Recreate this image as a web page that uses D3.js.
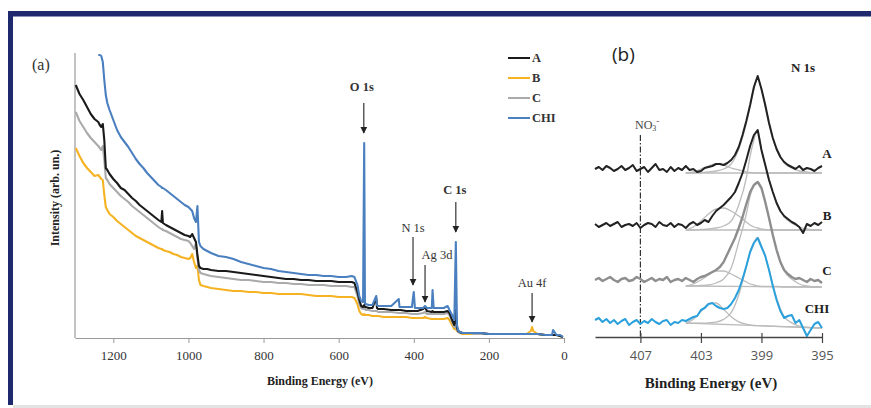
<!DOCTYPE html>
<html>
<head>
<meta charset="utf-8">
<script src="https://cdn.jsdelivr.net/npm/d3@7"></script>
<style>
body { margin: 0; background: #fff; }
svg { display: block; }
</style>
</head>
<body>
<svg id="chart" width="871" height="408"></svg>
<script>
// ---- (a) survey spectra: binding energy (eV) and intensity (arb. units)
var energy = [1300, 1290, 1280, 1270, 1260, 1250, 1240, 1236, 1232, 1228,
    1224, 1220, 1216, 1210, 1200, 1190, 1180, 1170, 1160, 1150,
    1140, 1130, 1120, 1110, 1100, 1090, 1080, 1072, 1070, 1068,
    1060, 1050, 1040, 1030, 1020, 1010, 1000, 995, 990, 985,
    980, 976, 972, 968, 960, 950, 940, 920, 900, 880,
    860, 840, 820, 800, 780, 760, 740, 720, 700, 680,
    660, 640, 620, 600, 580, 565, 558, 550, 545, 540,
    535, 532, 530, 528, 520, 510, 500, 498, 495, 480,
    460, 440, 438, 435, 420, 405, 400, 397, 390, 375,
    370, 365, 352, 350, 347, 335, 320, 310, 305, 298,
    292, 288, 285, 282, 278, 270, 260, 250, 240, 220,
    200, 180, 160, 140, 120, 100, 88, 85, 82, 70,
    50, 35, 32, 29, 20, 10, 3];

var sampleA = [253, 244, 238, 231, 224, 219, 216, 213, 211, 214,
    198, 170, 168, 164, 159, 155, 150, 148, 144, 140,
    137, 133, 130, 127, 124, 121, 118, 116, 127, 115,
    113, 111, 109, 107, 105, 103, 102, 101, 104, 100,
    96, 83, 72, 70, 69, 69, 68, 67, 67, 66,
    65, 64, 63, 62, 61, 60, 59, 59, 58, 58,
    57, 57, 57, 56, 56, 56, 55, 46, 38, 32,
    31, 33, 31, 31, 30, 30, 40, 30, 29, 29,
    28, 28, 28, 28, 27, 27, 27, 27, 27, 29,
    31, 27, 26, 27, 26, 26, 26, 27, 25, 18,
    13, 28, 10, 7, 6, 5, 5, 5, 5, 5,
    4, 4, 4, 4, 4, 4, 4, 4, 4, 4,
    3, 3, 3, 3, 3, 2, 1];

var sampleB = [190, 182, 175, 170, 166, 162, 163, 161, 159, 158,
    143, 131, 128, 124, 121, 117, 114, 111, 108, 105,
    102, 100, 98, 96, 94, 92, 90, 89, 89, 88,
    87, 86, 84, 83, 81, 80, 79, 80, 84, 76,
    70, 72, 58, 53, 52, 51, 50, 49, 48, 47,
    47, 46, 46, 45, 45, 44, 44, 44, 44, 43,
    42, 42, 42, 41, 41, 41, 40, 34, 27, 24,
    23, 24, 23, 23, 23, 22, 22, 22, 22, 21,
    21, 21, 21, 21, 21, 20, 20, 20, 20, 20,
    21, 20, 19, 19, 19, 19, 19, 20, 18, 13,
    9, 9, 7, 6, 5, 4, 4, 4, 4, 4,
    4, 4, 4, 4, 4, 4, 7, 11, 7, 4,
    3, 3, 3, 3, 3, 2, 1];

var sampleC = [226, 217, 211, 205, 200, 196, 192, 190, 188, 192,
    178, 160, 158, 154, 150, 146, 142, 139, 136, 132,
    129, 126, 123, 120, 117, 114, 111, 109, 109, 108,
    107, 105, 103, 101, 99, 98, 97, 95, 92, 89,
    95, 80, 68, 65, 64, 63, 62, 61, 60, 59,
    58, 58, 57, 56, 56, 55, 55, 54, 54, 53,
    53, 53, 52, 52, 52, 51, 51, 42, 34, 30,
    29, 30, 29, 28, 28, 27, 27, 27, 26, 26,
    26, 25, 25, 25, 25, 24, 24, 24, 24, 25,
    26, 24, 24, 24, 24, 24, 24, 25, 23, 16,
    11, 12, 8, 6, 5, 5, 5, 5, 4, 4,
    4, 4, 4, 4, 4, 4, 4, 4, 4, 4,
    3, 3, 3, 3, 3, 2, 1];

var sampleCHI = [null, null, null, null, null, null, 283, 283, 282, 276,
    258, 243, 235, 228, 218, 208, 201, 196, 191, 185,
    179, 174, 170, 165, 161, 157, 153, 151, 150, 150,
    148, 145, 142, 139, 136, 133, 131, 129, 127, 120,
    116, 132, 96, 92, 89, 87, 85, 82, 81, 79,
    76, 74, 72, 70, 69, 67, 66, 65, 64, 63,
    63, 62, 62, 61, 61, 62, 61, 53, 42, 37,
    36, 195, 35, 34, 33, 33, 42, 33, 32, 32,
    32, 39, 31, 31, 31, 31, 46, 30, 30, 30,
    32, 30, 30, 48, 30, 30, 30, 32, 28, 23,
    18, 96, 13, 8, 6, 5, 5, 5, 5, 5,
    4, 4, 4, 4, 4, 4, 4, 4, 4, 4,
    3, 3, 3, 8, 3, 3, 1];

var sampleNames = ["A", "B", "C", "CHI"];
var sampleColors = ["#1a1a1a", "#f5b223", "#aaaaaa", "#4a7fc0"];
var surveyTicks = [1200, 1000, 800, 600, 400, 200, 0];

var peakNames = ["O 1s", "N 1s", "Ag 3d", "C 1s", "Au 4f"];
var peakEnergies = [533, 402, 370, 288, 85];

// ---- (b) N 1s region
var nEnergy = [410, 409.75, 409.5, 409.25, 409, 408.75, 408.5, 408.25, 408, 407.75,
    407.5, 407.25, 407, 406.75, 406.5, 406.25, 406, 405.75, 405.5, 405.25,
    405, 404.75, 404.5, 404.25, 404, 403.75, 403.5, 403.25, 403, 402.75,
    402.5, 402.25, 402, 401.75, 401.5, 401.25, 401, 400.75, 400.5, 400.25,
    400, 399.75, 399.5, 399.25, 399, 398.75, 398.5, 398.25, 398, 397.75,
    397.5, 397.25, 397, 396.75, 396.5, 396.25, 396, 395.75, 395.5, 395.25, 395];

var nA = [0, 2, -1, 3, 1, -2, 0, 3, -1, 1, 4, -2, 0, 2, -3, 1, 5, -1, 0, -3,
    2, -2, 1, -1, 3, -1, 0, -3,
    -2, 1, 2, 3, 5, 5, 4,
    6, 9, 14, 22, 34, 48, 64, 82, 93, 80, 64, 46, 31, 20, 12, 7, 4,
    2, 0, 3, -1, 1, 0, -2, 1, 3];
var nB = [1, -2, 0, 2, -1, 1, 3, -2, 0, 1, -1, 2, -3, 0, 2, 1, -2, 3, 0, -1,
    2, -2, 1, 0, -3, 1, 3, 0,
    2, 5, 3, 9, 14, 17, 20,
    24, 28, 33, 42, 52, 65, 79, 90, 95, 75, 60, 45, 33, 22, 14, 9, 6,
    3, 1, -2, -8, 1, -1, 2, 0, 3];
var nC = [0, 2, -1, 1, 3, 0, -2, 1, 2, -1, 0, 3, 1, -2, 0, 2, -1, 1, 0, 3,
    -2, 0, 1, -1, 2, 0, -2, 1,
    3, 4, 6, 8, 10, 13, 18,
    26, 34, 42, 52, 63, 76, 88, 95, 98, 92, 78, 62, 45, 30, 18, 10, 6,
    3, 1, 2, 0, -2, 1, -1, 0, -3];
var nCHI = [2, 4, 0, 3, -1, 2, -2, 1, 3, -3, 0, 2, -2, 1, -1, 3, 0, -2, 1, 2,
    -3, 0, -1, 2, 1, 3, 5, 6,
    12, 14, 18, 19, 16, 14, 13,
    14, 18, 24, 32, 43, 56, 70, 79, 84, 75, 66, 52, 36, 22, 11, 4, 6,
    7, -1, 2, -6, -14, -8, -2, 0, -6];
var nOffsets = [168, 112, 57, 15];
var nColors = ["#222222", "#222222", "#8e8e8e", "#2aa0dc"];
var nWidths = [2, 2, 2.4, 2];

// fitted components (background included), same spectrum order
var fitE = [404, 403.5, 403, 402.5, 402, 401.5, 401, 400.5, 400, 399.75, 399.5,
    399.25, 399, 398.75, 398.5, 398, 397.5, 397, 396.5, 396, 395.5, 395];
var mainFit = [
    [-4, -4, -3.5, -3, -2, 0, 5, 20, 46, 63, 80, 92, 79, 62, 45, 19, 6, 1, -2, -3, -4, -4],
    [-5, -5, -4.5, -4, -3, -1, 4, 20, 47, 69, 85, 95, 75, 60, 45, 22, 8, 2, -2, -4, -5, -5],
    [-6, -6, -5.5, -5, -3, 1, 12, 38, 66, 84, 94, 98, 92, 78, 62, 30, 9, 1, -4, -6, -7, -7],
    [-1, -1.3, -1.1, -0.8, -0.1, 2.6, 9.3, 27, 55, 70, 79.5, 84.5, 76, 66, 52, 24, 5.4, -0.9, -4.2, -5.4, -5.7, -6]
];
var minorFit = [
    [-4, -3, 0, 3, 5, 4, 1, -1, -3, -3.5, -4, -4, -4, -4, -4, -4, -4, -4, -4, -4, -4, -4],
    [-5, -2, 4, 11, 16, 17, 14, 9, 3, 0, -2, -3, -4, -4.5, -5, -5, -5, -5, -5, -5, -5, -5],
    [-6, -4, 0, 5, 9, 9, 6, 2, -2, -4, -5, -6, -6.5, -6.5, -6.5, -6.5, -7, -7, -7, -7, -7, -7],
    [-1, 2.7, 10.4, 18.2, 19, 12.6, 5.3, 0.1, -2.2, -2.9, -3.5, -3.6, -3.8, -3.9, -4.1, -4.3, -4.6, -4.9, -5.2, -5.4, -5.7, -6]
];
var bgStart = [-4, -5, -6, -1];
var bgEnd = [-4, -5, -7, -6];
var nTicks = [407, 403, 399, 395];

var serif = "Liberation Serif, Times New Roman, serif";
var sans = "Open Sans, Liberation Sans, sans-serif";
var navy = "#1f2a6e";

var svg = d3.select("#chart");

// frame
svg.append("rect").attr("x", 8).attr("y", 11).attr("width", 863).attr("height", 5).attr("fill", navy);
svg.append("rect").attr("x", 8).attr("y", 11).attr("width", 5).attr("height", 394).attr("fill", navy);
svg.append("rect").attr("x", 13).attr("y", 16).attr("width", 858).attr("height", 1).attr("fill", "#8a92b8");
svg.append("rect").attr("x", 13).attr("y", 405).attr("width", 858).attr("height", 3).attr("fill", "#e3e3e3");

// arrowhead
svg.append("defs").append("marker")
    .attr("id", "arrow")
    .attr("viewBox", "0 0 10 10")
    .attr("refX", 9).attr("refY", 5)
    .attr("markerWidth", 7).attr("markerHeight", 8)
    .attr("markerUnits", "userSpaceOnUse")
    .attr("orient", "auto")
    .append("path").attr("d", "M0,0L10,5L0,10z").attr("fill", "#222");

// ================= panel (a)
var xA = d3.scaleLinear().domain([1302, 0]).range([75, 564]);
var yA = d3.scaleLinear().domain([0, 285]).range([338, 53]);
var gA = svg.append("g");

gA.append("line")
    .attr("x1", xA(1302)).attr("x2", xA(1302))
    .attr("y1", yA(285)).attr("y2", yA(0))
    .attr("stroke", "#9a9a9a").attr("stroke-width", 1.2);

var axisA = gA.append("g")
    .attr("transform", "translate(0," + yA(0) + ")")
    .call(d3.axisBottom(xA).tickValues(surveyTicks).tickFormat(d3.format("d"))
        .tickSize(5).tickSizeOuter(0).tickPadding(8));
axisA.attr("font-family", serif);
axisA.select(".domain").attr("stroke", "#9a9a9a").attr("stroke-width", 1.2);
axisA.selectAll(".tick line").attr("stroke", "#9a9a9a");
axisA.selectAll(".tick text")
    .attr("font-family", serif).attr("font-size", 13).attr("fill", "#333");

var drawOrder = [1, 2, 0, 3];
var samples = [sampleA, sampleB, sampleC, sampleCHI];
var lineA = d3.line()
    .defined(function (d) { return d[1] != null; })
    .x(function (d) { return xA(d[0]); })
    .y(function (d) { return yA(d[1]); });

drawOrder.forEach(function (k) {
    var pts = energy.map(function (e, i) { return [e, samples[k][i]]; });
    gA.append("path")
        .datum(pts)
        .attr("d", lineA)
        .attr("fill", "none")
        .attr("stroke", sampleColors[k])
        .attr("stroke-width", 2.1)
        .attr("stroke-linejoin", "round");
});

// peak labels and arrows
var labelY = [87, 228, 255, 190, 283];
var labelDx = [-2, 0, 12, -1, 0];
var arrowTop = [103, 237, 265, 202, 293];
var arrowBottom = [133, 285, 302, 232, 322];
var labelBold = [true, false, false, true, false];
peakNames.forEach(function (name, i) {
    var x = xA(peakEnergies[i]);
    gA.append("text")
        .attr("x", x + labelDx[i]).attr("y", labelY[i])
        .attr("text-anchor", "middle").attr("dominant-baseline", "central")
        .attr("font-family", serif).attr("font-size", 12.5)
        .attr("font-weight", labelBold[i] ? "bold" : "normal")
        .attr("fill", "#333")
        .text(name);
    gA.append("line")
        .attr("x1", x).attr("x2", x)
        .attr("y1", arrowTop[i]).attr("y2", arrowBottom[i])
        .attr("stroke", "#222").attr("stroke-width", 1.1)
        .attr("marker-end", "url(#arrow)");
});

// legend
sampleNames.forEach(function (name, i) {
    var y = 58 + i * 20;
    gA.append("line")
        .attr("x1", 508).attr("x2", 530).attr("y1", y).attr("y2", y)
        .attr("stroke", sampleColors[i]).attr("stroke-width", 2);
    gA.append("text")
        .attr("x", 532).attr("y", y)
        .attr("dominant-baseline", "central")
        .attr("font-family", serif).attr("font-size", 12.5).attr("font-weight", "bold")
        .attr("fill", "#333")
        .text(name);
});

gA.append("text")
    .attr("x", 320).attr("y", 381)
    .attr("text-anchor", "middle").attr("dominant-baseline", "central")
    .attr("font-family", serif).attr("font-size", 12).attr("font-weight", "bold")
    .attr("fill", "#222")
    .text("Binding Energy (eV)");

gA.append("text")
    .attr("transform", "translate(55,198) rotate(-90)")
    .attr("text-anchor", "middle").attr("dominant-baseline", "central")
    .attr("font-family", serif).attr("font-size", 12).attr("font-weight", "bold")
    .attr("fill", "#222")
    .text("Intensity (arb. un.)");

gA.append("text")
    .attr("x", 32).attr("y", 64)
    .attr("dominant-baseline", "central")
    .attr("font-family", serif).attr("font-size", 16)
    .attr("fill", "#333")
    .text("(a)");

// ================= panel (b)
var xB = d3.scaleLinear().domain([410, 395]).range([595, 822]);
var yB = d3.scaleLinear().domain([0, 270]).range([337, 67]);
var gB = svg.append("g");

// NO3- marker line
gB.append("line")
    .attr("x1", xB(407)).attr("x2", xB(407))
    .attr("y1", 135).attr("y2", yB(0))
    .attr("stroke", "#333").attr("stroke-width", 1.2)
    .attr("stroke-dasharray", "6,2,1.5,2");

var fitLine = d3.line()
    .x(function (d) { return xB(d[0]); })
    .y(function (d) { return yB(d[1]); })
    .curve(d3.curveMonotoneX);
var dataLine = d3.line()
    .x(function (d) { return xB(d[0]); })
    .y(function (d) { return yB(d[1]); });

var nSpectra = [nA, nB, nC, nCHI];
nSpectra.forEach(function (spec, k) {
    var off = nOffsets[k];
    gB.append("path")
        .datum([[404, off + bgStart[k]], [395.2, off + bgEnd[k]]])
        .attr("d", dataLine)
        .attr("fill", "none").attr("stroke", "#bcbcbc").attr("stroke-width", 1.3);
    [mainFit[k], minorFit[k]].forEach(function (comp) {
        gB.append("path")
            .datum(fitE.map(function (e, i) { return [e, off + comp[i]]; }))
            .attr("d", fitLine)
            .attr("fill", "none").attr("stroke", "#bcbcbc").attr("stroke-width", 1.3);
    });
});
nSpectra.forEach(function (spec, k) {
    var off = nOffsets[k];
    gB.append("path")
        .datum(nEnergy.map(function (e, i) { return [e, off + spec[i]]; }))
        .attr("d", dataLine)
        .attr("fill", "none")
        .attr("stroke", nColors[k])
        .attr("stroke-width", nWidths[k])
        .attr("stroke-linejoin", "round");
});

var axisB = gB.append("g")
    .attr("transform", "translate(0," + yB(0) + ")")
    .call(d3.axisBottom(xB).tickValues(nTicks).tickSize(6).tickSizeOuter(0).tickPadding(8));
axisB.select(".domain").attr("stroke", "#444").attr("stroke-width", 1.6);
axisB.selectAll(".tick line").attr("stroke", "#444").attr("y1", -4).attr("stroke-width", 1.2);
axisB.selectAll(".tick text")
    .attr("font-family", sans).attr("font-size", 13).attr("fill", "#555");

gB.append("text")
    .attr("x", 711).attr("y", 383)
    .attr("text-anchor", "middle").attr("dominant-baseline", "central")
    .attr("font-family", serif).attr("font-size", 15).attr("font-weight", "bold")
    .attr("fill", "#222")
    .text("Binding Energy (eV)");

gB.append("text")
    .attr("x", 612).attr("y", 54)
    .attr("dominant-baseline", "central")
    .attr("font-family", sans).attr("font-size", 19)
    .attr("fill", "#222")
    .text("(b)");

gB.append("text")
    .attr("x", 803).attr("y", 67)
    .attr("text-anchor", "middle").attr("dominant-baseline", "central")
    .attr("font-family", serif).attr("font-size", 13).attr("font-weight", "bold")
    .attr("fill", "#222")
    .text("N 1s");

var no3 = gB.append("text")
    .attr("x", 635).attr("y", 125)
    .attr("dominant-baseline", "central")
    .attr("font-family", serif).attr("font-size", 12)
    .attr("fill", "#444");
no3.append("tspan").text("NO");
no3.append("tspan").attr("font-size", 8).attr("dy", 3).text("3");
no3.append("tspan").attr("font-size", 9).attr("dy", -7).text("-");

var nLabelX = [827, 827, 827, 817];
var nLabelY = [153, 215, 270, 308];
sampleNames.forEach(function (name, i) {
    gB.append("text")
        .attr("x", nLabelX[i]).attr("y", nLabelY[i])
        .attr("text-anchor", "middle").attr("dominant-baseline", "central")
        .attr("font-family", serif).attr("font-size", 13).attr("font-weight", "bold")
        .attr("fill", "#222")
        .text(name);
});
</script>
</body>
</html>
